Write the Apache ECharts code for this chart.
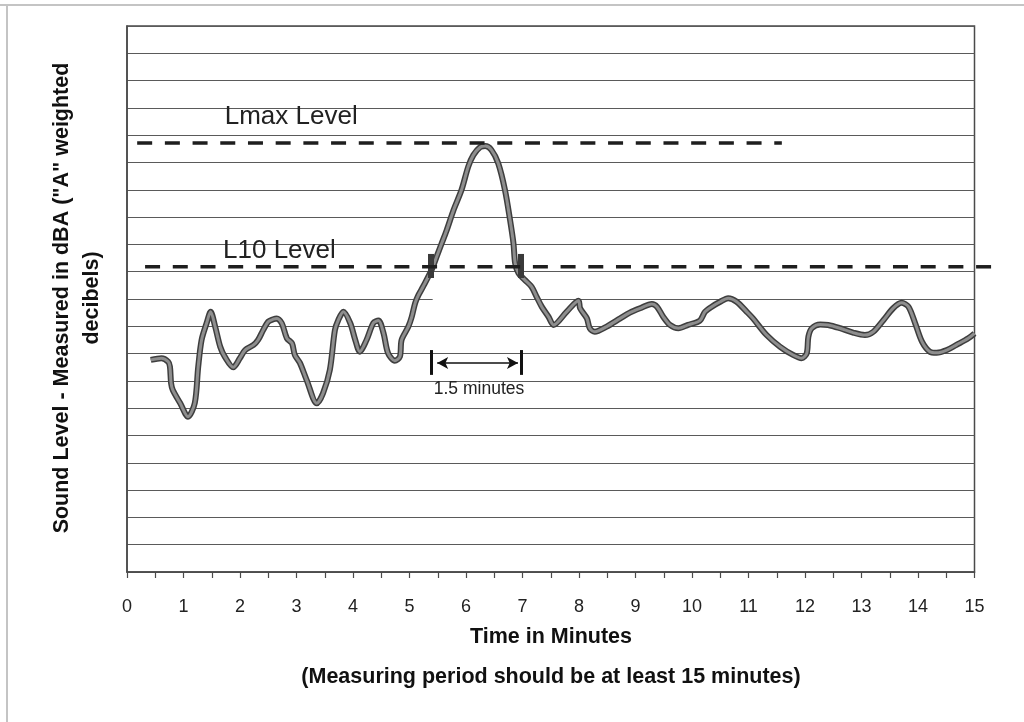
<!DOCTYPE html>
<html>
<head>
<meta charset="utf-8">
<script src="https://cdn.jsdelivr.net/npm/echarts@6/dist/echarts.min.js"></script>
<style>
html,body{margin:0;padding:0;background:#fff;}
#c{width:1024px;height:722px;}
</style>
</head>
<body>
<div id="c"></div>
<script>
// ---- data ----
const timeMinutes = [0.42,0.61,0.73,0.76,0.78,0.81,0.94,1.08,1.20,1.26,
1.32,1.41,1.48,1.56,1.65,1.73,1.88,2.00,2.09,2.24,
2.32,2.41,2.50,2.59,2.65,2.74,2.83,2.92,2.97,3.06,
3.18,3.36,3.47,3.59,3.68,3.74,3.83,3.95,4.04,4.12,
4.24,4.36,4.45,4.54,4.62,4.74,4.83,4.86,4.98,5.04,
5.10,5.16,5.24,5.39,5.48,5.57,5.66,5.78,5.92,6.04,
6.13,6.25,6.34,6.45,6.57,6.69,6.78,6.84,6.87,6.93,
7.04,7.16,7.25,7.34,7.46,7.55,7.78,7.99,8.02,8.14,
8.19,8.28,8.49,8.73,8.90,9.08,9.29,9.38,9.49,9.61,
9.76,9.93,10.14,10.23,10.35,10.50,10.64,10.79,10.97,11.08,
11.32,11.56,11.79,11.94,12.03,12.06,12.12,12.27,12.41,12.62,
12.85,13.06,13.21,13.39,13.56,13.71,13.83,13.95,14.07,14.21,
14.33,14.51,14.68,14.89,15.00];
const soundLevel = [7.77,7.83,7.70,7.52,6.92,6.67,6.19,5.69,6.19,7.51,
8.50,9.12,9.53,8.99,8.25,7.89,7.50,7.84,8.13,8.32,
8.50,8.86,9.17,9.26,9.29,9.11,8.56,8.38,7.95,7.66,
7.03,6.18,6.55,7.40,8.86,9.23,9.53,9.12,8.50,8.07,
8.50,9.12,9.21,8.75,8.02,7.74,7.89,8.50,8.99,9.35,
9.85,10.15,10.45,11.06,11.55,12.04,12.53,13.26,13.99,14.85,
15.27,15.56,15.60,15.46,14.97,13.99,12.89,12.04,11.31,10.94,
10.70,10.45,10.08,9.72,9.35,9.05,9.53,9.94,9.66,9.29,
8.93,8.80,8.99,9.29,9.50,9.66,9.82,9.72,9.35,9.05,
8.93,9.05,9.21,9.53,9.72,9.90,10.03,9.90,9.53,9.29,
8.68,8.25,7.95,7.83,8.01,8.62,8.93,9.07,9.05,8.93,
8.77,8.68,8.80,9.23,9.66,9.86,9.72,9.11,8.44,8.07,
8.03,8.13,8.32,8.56,8.74];
const lmaxLevel = 15.71;
const lmaxSpan = [0.18, 11.59];
const l10Level = 11.18;
const l10Span = [0.32, 15.0];
const l10Overhang = 15.4;                // L10 dashes continue past the frame
const crossTimes = [5.38, 6.97];         // L10 crossing markers
const crossRange = [10.77, 11.65];
const spanTimes = [5.38, 6.985];         // 1.5 minute bracket
const spanRange = [7.22, 8.13];
const arrowTimes = [5.49, 6.92];
const arrowLevel = 7.66;
const xTicks = [0,1,2,3,4,5,6,7,8,9,10,11,12,13,14,15];
const yTitle = ['Sound Level - Measured in dBA ("A" weighted', 'decibels)'];
const xTitle = ['Time in Minutes', '(Measuring period should be at least 15 minutes)'];

const curve = timeMinutes.map((t, i) => [t, soundLevel[i]]);
const FONT = '"Liberation Sans", Arial, sans-serif';
const DASH = [15, 12.7];

const chart = echarts.init(document.getElementById('c'));

function seg(x1, y1, x2, y2, width, color, sym) {
  return [
    {coord: [x1, y1], symbol: sym || 'none', symbolSize: [9, 11], lineStyle: {width: width, color: color, type: 'solid'}},
    {coord: [x2, y2], symbol: sym || 'none', symbolSize: [9, 11]}
  ];
}

chart.setOption({
  animation: false,
  backgroundColor: '#fff',
  grid: {left: 127, top: 26, right: 49.5, bottom: 150, show: true, borderColor: '#4a4a4a', borderWidth: 1.5, backgroundColor: 'transparent'},
  xAxis: {
    type: 'value', min: 0, max: 15, interval: 1,
    axisLine: {show: true, lineStyle: {color: '#4a4a4a', width: 1.5}},
    axisTick: {show: true, inside: false, length: 6, lineStyle: {color: '#4a4a4a', width: 1.2}},
    minorTick: {show: true, splitNumber: 2, length: 6, lineStyle: {color: '#4a4a4a', width: 1.2}},
    splitLine: {show: false},
    axisLabel: {margin: 26, fontFamily: FONT, fontSize: 18, color: '#222',
      formatter: v => (xTicks.indexOf(v) >= 0 ? String(v) : '')}
  },
  yAxis: {
    type: 'value', min: 0, max: 20, interval: 1,
    axisLine: {show: true, lineStyle: {color: '#4a4a4a', width: 1.5}},
    axisTick: {show: false},
    axisLabel: {show: false},
    splitLine: {show: true, lineStyle: {color: '#5a5a5a', width: 1.2}}
  },
  series: [
    {type: 'line', data: curve, smooth: 0.3, symbol: 'none', z: 3, silent: true,
     lineStyle: {width: 6, color: '#3e3e3e'}},
    {type: 'line', data: curve, smooth: 0.3, symbol: 'none', z: 4, silent: true,
     lineStyle: {width: 3, color: '#8e8e8e'}},
    {type: 'line', data: [[lmaxSpan[0], lmaxLevel], [lmaxSpan[1], lmaxLevel]], symbol: 'none', z: 5, clip: false, silent: true,
     lineStyle: {width: 3.5, color: '#1e1e1e', type: DASH}},
    {type: 'line', data: [[l10Span[0], l10Level], [l10Span[1], l10Level]], symbol: 'none', z: 5, clip: false, silent: true,
     lineStyle: {width: 3.5, color: '#1e1e1e', type: DASH},
     markLine: {
       silent: true, animation: false, label: {show: false}, emphasis: {disabled: true},
       data: [
         seg(crossTimes[0], crossRange[0], crossTimes[0], crossRange[1], 6, '#3a3a3a'),
         seg(crossTimes[1], crossRange[0], crossTimes[1], crossRange[1], 6, '#3a3a3a'),
         seg(spanTimes[0], spanRange[0], spanTimes[0], spanRange[1], 3, '#111'),
         seg(spanTimes[1], spanRange[0], spanTimes[1], spanRange[1], 3, '#111'),
         seg(arrowTimes[0], arrowLevel, arrowTimes[1], arrowLevel, 1.6, '#111', 'arrow')
       ]
     }}
  ]
});

const p = (x, y) => chart.convertToPixel({gridIndex: 0}, [x, y]);
const gapA = p(5.41, 10.0), gapB = p(6.98, 10.0);
const lmaxPos = p(1.73, 16.67);
const l10Pos = p(1.70, 11.76);
const minPos = p(6.23, 6.70);
const l10Start = p(l10Span[0], l10Level), l10End = p(l10Span[1], l10Level), l10Far = p(l10Overhang, l10Level);

chart.setOption({
  graphic: [
    {type: 'line', shape: {x1: 0, y1: 5, x2: 1024, y2: 5}, style: {stroke: '#c4c4c4', lineWidth: 2}, silent: true},
    {type: 'line', shape: {x1: 7, y1: 5, x2: 7, y2: 722}, style: {stroke: '#c4c4c4', lineWidth: 2}, silent: true},
    {type: 'rect', z: 1, shape: {x: gapA[0], y: gapA[1] - 2, width: gapB[0] - gapA[0], height: 4}, style: {fill: '#fff'}, silent: true},
    {type: 'line', z: 5, silent: true,
     shape: {x1: l10End[0], y1: l10End[1], x2: l10Far[0], y2: l10Far[1]},
     style: {stroke: '#1e1e1e', lineWidth: 3.5, lineDash: DASH, lineDashOffset: (l10End[0] - l10Start[0])}},
    {type: 'text', x: lmaxPos[0], y: lmaxPos[1], z: 10, style: {text: 'Lmax Level', font: '26px ' + FONT, fill: '#222', textAlign: 'left', textVerticalAlign: 'middle'}},
    {type: 'text', x: l10Pos[0], y: l10Pos[1], z: 10, style: {text: 'L10 Level', font: '26px ' + FONT, fill: '#222', textAlign: 'left', textVerticalAlign: 'middle'}},
    {type: 'text', x: minPos[0], y: minPos[1], z: 10, style: {text: '1.5 minutes', font: '17.5px ' + FONT, fill: '#222', textAlign: 'center', textVerticalAlign: 'middle'}},
    {type: 'text', x: 62, y: 298, rotation: Math.PI / 2, style: {text: yTitle[0], font: 'bold 21.5px ' + FONT, fill: '#111', textAlign: 'center', textVerticalAlign: 'middle'}},
    {type: 'text', x: 92, y: 298, rotation: Math.PI / 2, style: {text: yTitle[1], font: 'bold 21.5px ' + FONT, fill: '#111', textAlign: 'center', textVerticalAlign: 'middle'}},
    {type: 'text', x: 551, y: 637, style: {text: xTitle[0], font: 'bold 21.5px ' + FONT, fill: '#111', textAlign: 'center', textVerticalAlign: 'middle'}},
    {type: 'text', x: 551, y: 677, style: {text: xTitle[1], font: 'bold 21.5px ' + FONT, fill: '#111', textAlign: 'center', textVerticalAlign: 'middle'}}
  ]
});
</script>
</body>
</html>
